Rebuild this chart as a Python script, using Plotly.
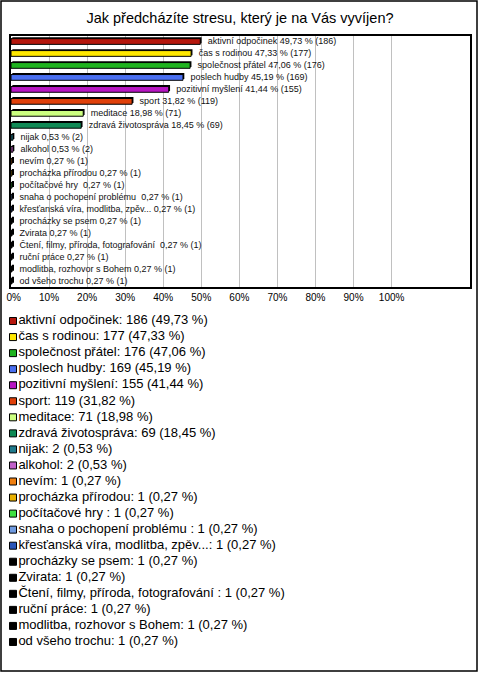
import plotly.graph_objects as go

# ---------------- data ----------------
categories = [
    "aktivní odpočinek", "čas s rodinou", "společnost přátel", "poslech hudby",
    "pozitivní myšlení", "sport", "meditace", "zdravá životospráva", "nijak",
    "alkohol", "nevím", "procházka přírodou", "počítačové hry ",
    "snaha o pochopení problému ", "křesťanská víra, modlitba, zpěv...",
    "procházky se psem", "Zvirata", "Čtení, filmy, příroda, fotografování ",
    "ruční práce", "modlitba, rozhovor s Bohem", "od všeho trochu",
]
counts = [186, 177, 176, 169, 155, 119, 71, 69, 2, 2, 1, 1, 1, 1, 1, 1, 1, 1, 1, 1, 1]
percents = [49.73, 47.33, 47.06, 45.19, 41.44, 31.82, 18.98, 18.45, 0.53, 0.53,
            0.27, 0.27, 0.27, 0.27, 0.27, 0.27, 0.27, 0.27, 0.27, 0.27, 0.27]
colors = [
    "#b5170d", "#ffe800", "#1fb31f", "#4a6ff0", "#b716c2", "#e0400a",
    "#ccff80", "#108a55", "#1f7a8c", "#c060c8", "#f07f10", "#e8b000",
    "#40e040", "#6f9ae0", "#2a55b8", "#000000", "#000000", "#000000",
    "#000000", "#000000", "#000000",
]
tick_values = [0, 10, 20, 30, 40, 50, 60, 70, 80, 90, 100]
tick_labels = ["\u00a0\u00a00%", "10%", "20%", "30%", "40%", "50%",
               "60%", "70%", "80%", "90%", "100%"]
title_text = "Jak předcházíte stresu, který je na Vás vyvíjen?"

W, H = 480, 673
FONT = "Liberation Sans, Arial, sans-serif"
N = len(categories)


def fmt_pct(p):
    return f"{p:.2f}".replace(".", ",")


bar_labels = ["\u00a0\u00a0\u00a0" + f"{c} {fmt_pct(p)} % ({n})" for c, p, n in zip(categories, percents, counts)]
legend_labels = [f"{c}: {n} ({fmt_pct(p)} %)" for c, p, n in zip(categories, percents, counts)]

fig = go.Figure()

# shadow bars (3D effect)
fig.add_trace(go.Bar(
    x=percents, y=categories, orientation="h", base=0.35,
    width=0.5, offset=-0.36,
    marker=dict(color="#000000", line=dict(width=0)),
    showlegend=False, hoverinfo="skip",
))
# main bars
fig.add_trace(go.Bar(
    x=percents, y=categories, orientation="h",
    width=0.48, offset=-0.24,
    marker=dict(color=colors, line=dict(color="#000000", width=1)),
    text=bar_labels, textposition="outside", constraintext="none",
    textfont=dict(family=FONT, size=9, color="#111111"),
    cliponaxis=False, showlegend=False,
))

# legend drawn as a second panel
fig.add_trace(go.Scatter(
    x=[0] * N, y=categories, mode="markers+text",
    marker=dict(symbol="square", size=7, color=colors, line=dict(color="#000000", width=1)),
    text=legend_labels, textposition="middle right",
    textfont=dict(family=FONT, size=13, color="#000000"),
    xaxis="x2", yaxis="y2", showlegend=False, cliponaxis=False,
))

top_px, bot_px = 35.5, 287
leg_top, leg_bot = 313, 650

fig.update_layout(
    width=W, height=H, autosize=False,
    margin=dict(l=0, r=0, t=0, b=0, pad=0, autoexpand=False),
    paper_bgcolor="white", plot_bgcolor="white",
    barmode="overlay",
    font=dict(family=FONT, color="#000000"),
    title=dict(text=title_text, x=0.5, xanchor="center", y=1 - 18 / H, yanchor="middle",
               font=dict(family=FONT, size=14.5, color="#000000")),
    xaxis=dict(domain=[11 / W, 470 / W], range=[0, 120.6], automargin=False,
               tickvals=tick_values, ticktext=tick_labels, ticklabeloverflow="allow",
               tickfont=dict(family=FONT, size=10, color="#000000"),
               showgrid=True, gridcolor="#c0c0c0", gridwidth=1,
               showline=True, linecolor="#000000", linewidth=1.5, mirror=True,
               zeroline=False, ticks="", fixedrange=True),
    yaxis=dict(domain=[1 - bot_px / H, 1 - top_px / H], automargin=False,
               categoryorder="array", categoryarray=categories, range=[N - 0.5, -0.5],
               showticklabels=False, showgrid=False, zeroline=False,
               showline=True, linecolor="#000000", linewidth=1.5, mirror=True,
               ticks="", fixedrange=True),
    xaxis2=dict(domain=[0, 1], range=[-13, W - 13], anchor="y2", automargin=False,
                visible=False, fixedrange=True),
    yaxis2=dict(domain=[1 - leg_bot / H, 1 - leg_top / H], anchor="x2", automargin=False,
                categoryorder="array", categoryarray=categories, range=[N - 0.5, -0.5],
                visible=False, fixedrange=True),
    shapes=[dict(type="rect", xref="paper", yref="paper",
                 x0=1 / W, x1=477 / W, y0=1 - 671 / H, y1=1 - 1 / H,
                 line=dict(color="#000000", width=1.5), layer="above")],
)

fig.write_html("out.html", config={"displayModeBar": False},
               post_script="document.body.style.margin='0';document.body.style.overflow='hidden';")
